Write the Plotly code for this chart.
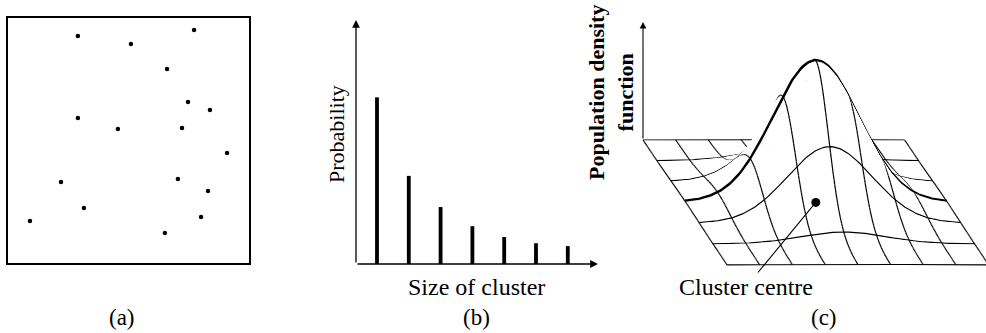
import numpy as np
import plotly.graph_objects as go

# ---------------- data ----------------
# (a) random point pattern (unit square coordinates)
points_x = [0.290, 0.510, 0.772, 0.660, 0.747, 0.838, 0.290, 0.456, 0.722,
            0.909, 0.220, 0.705, 0.830, 0.315, 0.091, 0.801, 0.651]
points_y = [0.927, 0.894, 0.951, 0.792, 0.657, 0.624, 0.592, 0.547, 0.551,
            0.449, 0.331, 0.343, 0.294, 0.224, 0.171, 0.188, 0.122]

# (b) cluster-size distribution
cluster_sizes = [1, 2, 3, 4, 5, 6, 7]
probabilities = [0.401, 0.212, 0.137, 0.091, 0.065, 0.050, 0.043]

# (c) population density surface around a cluster centre
grid_cols = 8          # cells along the width
grid_rows = 6          # cells along the depth
centre_u = 4.0
centre_v = 3.0
peak_height = 4.34
sigma_u = 1.3
sigma_v = 0.9

FONT = "Liberation Serif"
INK = "black"

fig = go.Figure()

# ---------------- panel (a) ----------------
fig.add_trace(go.Scatter(x=points_x, y=points_y, mode="markers",
                         marker=dict(size=4.5, color=INK),
                         xaxis="x", yaxis="y", hoverinfo="skip"))

# ---------------- panel (b) ----------------
fig.add_trace(go.Bar(x=cluster_sizes, y=probabilities, width=0.12,
                     marker=dict(color=INK, line=dict(width=0)),
                     xaxis="x2", yaxis="y2", hoverinfo="skip"))

# ---------------- panel (c) ----------------
SX = 14 / 32.7      # oblique shear of depth axis (horizontal)
SY = 20.8 / 32.7    # oblique shear of depth axis (vertical)


def height(u, v):
    return peak_height * np.exp(-((u - centre_u) ** 2) / (2 * sigma_u ** 2)
                                - ((v - centre_v) ** 2) / (2 * sigma_v ** 2))


def proj(u, v, h):
    return u + SX * v, -SY * v + h


u_fine = np.linspace(0, grid_cols, 161)
dv = 0.05
n_strips = int(round(grid_rows / dv))
v_edges = np.linspace(0, grid_rows, n_strips + 1)


def row_trace(vj):
    vv = np.full_like(u_fine, vj)
    x, y = proj(u_fine, vv, height(u_fine, vv))
    thick = abs(vj - centre_v) < 1e-9
    return go.Scatter(x=x, y=y, mode="lines",
                      line=dict(color=INK, width=3.2 if thick else 1.2),
                      xaxis="x3", yaxis="y3", hoverinfo="skip")


def seg_trace(v0, v1):
    xs, ys = [], []
    vs = np.array([v0, (v0 + v1) / 2, v1])
    for ui in range(grid_cols + 1):
        uu = np.full_like(vs, float(ui))
        x, y = proj(uu, vs, height(uu, vs))
        xs += list(x) + [None]
        ys += list(y) + [None]
    return go.Scatter(x=xs, y=ys, mode="lines",
                      line=dict(color=INK, width=1.2),
                      xaxis="x3", yaxis="y3", hoverinfo="skip")


for k in range(n_strips):
    v0, v1 = v_edges[k], v_edges[k + 1]
    x0, y0 = proj(u_fine, np.full_like(u_fine, v0), height(u_fine, np.full_like(u_fine, v0)))
    x1, y1 = proj(u_fine, np.full_like(u_fine, v1), height(u_fine, np.full_like(u_fine, v1)))
    px = np.concatenate([x0, x1[::-1]])
    py = np.concatenate([y0, y1[::-1]])
    fig.add_trace(go.Scatter(x=px, y=py, mode="lines", fill="toself",
                             fillcolor="white", line=dict(width=0.9, color="white"),
                             xaxis="x3", yaxis="y3", hoverinfo="skip"))
    if k >= 1:
        fig.add_trace(seg_trace(v_edges[k - 1], v_edges[k]))
    if abs(v0 - round(v0)) < 1e-9:
        fig.add_trace(row_trace(round(v0)))
fig.add_trace(seg_trace(v_edges[-2], v_edges[-1]))
fig.add_trace(row_trace(grid_rows))

# cluster centre on the base plane
cx, cy = proj(centre_u, centre_v, 0.0)
fig.add_trace(go.Scatter(x=[cx], y=[cy], mode="markers",
                         marker=dict(size=9, color=INK),
                         xaxis="x3", yaxis="y3", hoverinfo="skip"))

# ---------------- layout ----------------
W, H = 986, 333
U = 32.7
x3_lo = -63 / U
y3_lo, y3_hi = (140 - H) / U, 140 / U

blank = dict(showgrid=False, zeroline=False, showticklabels=False, ticks="")

fig.update_layout(
    width=W, height=H, margin=dict(l=0, r=0, t=0, b=0),
    paper_bgcolor="white", plot_bgcolor="rgba(0,0,0,0)",
    showlegend=False, font=dict(family=FONT, color=INK),
    xaxis=dict(domain=[8 / W, 249 / W], range=[0, 1], showline=True, mirror=True,
               linecolor=INK, linewidth=1.6, **blank),
    yaxis=dict(domain=[(H - 263) / H, (H - 18) / H], range=[0, 1], showline=True,
               mirror=True, linecolor=INK, linewidth=1.6, **blank),
    xaxis2=dict(domain=[356 / W, 598 / W], range=[0.34, 7.95], showline=False, **blank),
    yaxis2=dict(domain=[(H - 264) / H, (H - 20) / H], range=[0, 0.587], showline=False, **blank),
    xaxis3=dict(domain=[580 / W, 1.0], range=[x3_lo, x3_lo + 406 / U], showline=False, **blank),
    yaxis3=dict(domain=[0, 1], range=[y3_lo, y3_hi], showline=False, **blank),
)

ann = []
# axis arrows for (b)
ann.append(dict(x=7.95, y=0, ax=0.34, ay=0, xref="x2", yref="y2", axref="x2", ayref="y2",
                text="", showarrow=True, arrowhead=2, arrowsize=1.2, arrowwidth=1.3,
                arrowcolor=INK))
ann.append(dict(x=0.34, y=0.587, ax=0.34, ay=0, xref="x2", yref="y2", axref="x2", ayref="y2",
                text="", showarrow=True, arrowhead=2, arrowsize=1.2, arrowwidth=1.3,
                arrowcolor=INK))
# vertical axis arrow for (c)
ann.append(dict(x=0, y=(140 - 22) / U, ax=0, ay=0, xref="x3", yref="y3", axref="x3", ayref="y3",
                text="", showarrow=True, arrowhead=2, arrowsize=1.2, arrowwidth=1.1,
                arrowcolor=INK))
# Cluster centre label with leader line
ann.append(dict(x=cx, y=cy, ax=(746 - 643) / U, ay=(140 - 287) / U,
                xref="x3", yref="y3", axref="x3", ayref="y3",
                text="Cluster centre", showarrow=True, arrowhead=0, arrowwidth=1.1,
                arrowcolor=INK, standoff=3, font=dict(size=24, family=FONT, color=INK)))
# text labels
ann.append(dict(x=336 / W, y=(H - 134) / H, xref="paper", yref="paper", text="Probability",
                xanchor="center", yanchor="middle",
                textangle=-90, showarrow=False, font=dict(size=22, family=FONT, color=INK)))
ann.append(dict(x=476 / W, y=(H - 287) / H, xref="paper", yref="paper", text="Size of cluster",
                xanchor="center", yanchor="middle",
                showarrow=False, font=dict(size=24, family=FONT, color=INK)))
ann.append(dict(x=611 / W, y=(H - 93) / H, xref="paper", yref="paper",
                text="<b>Population density</b><br><b>function</b>",
                xanchor="center", yanchor="middle",
                textangle=-90, showarrow=False, font=dict(size=22, family=FONT, color=INK)))
for lbl, px in (("(a)", 122), ("(b)", 476), ("(c)", 824)):
    ann.append(dict(x=px / W, y=(H - 317) / H, xref="paper", yref="paper", text=lbl,
                    xanchor="center", yanchor="middle",
                    showarrow=False, font=dict(size=23, family=FONT, color=INK)))
fig.update_layout(annotations=ann)

fig.write_html("out.html")
